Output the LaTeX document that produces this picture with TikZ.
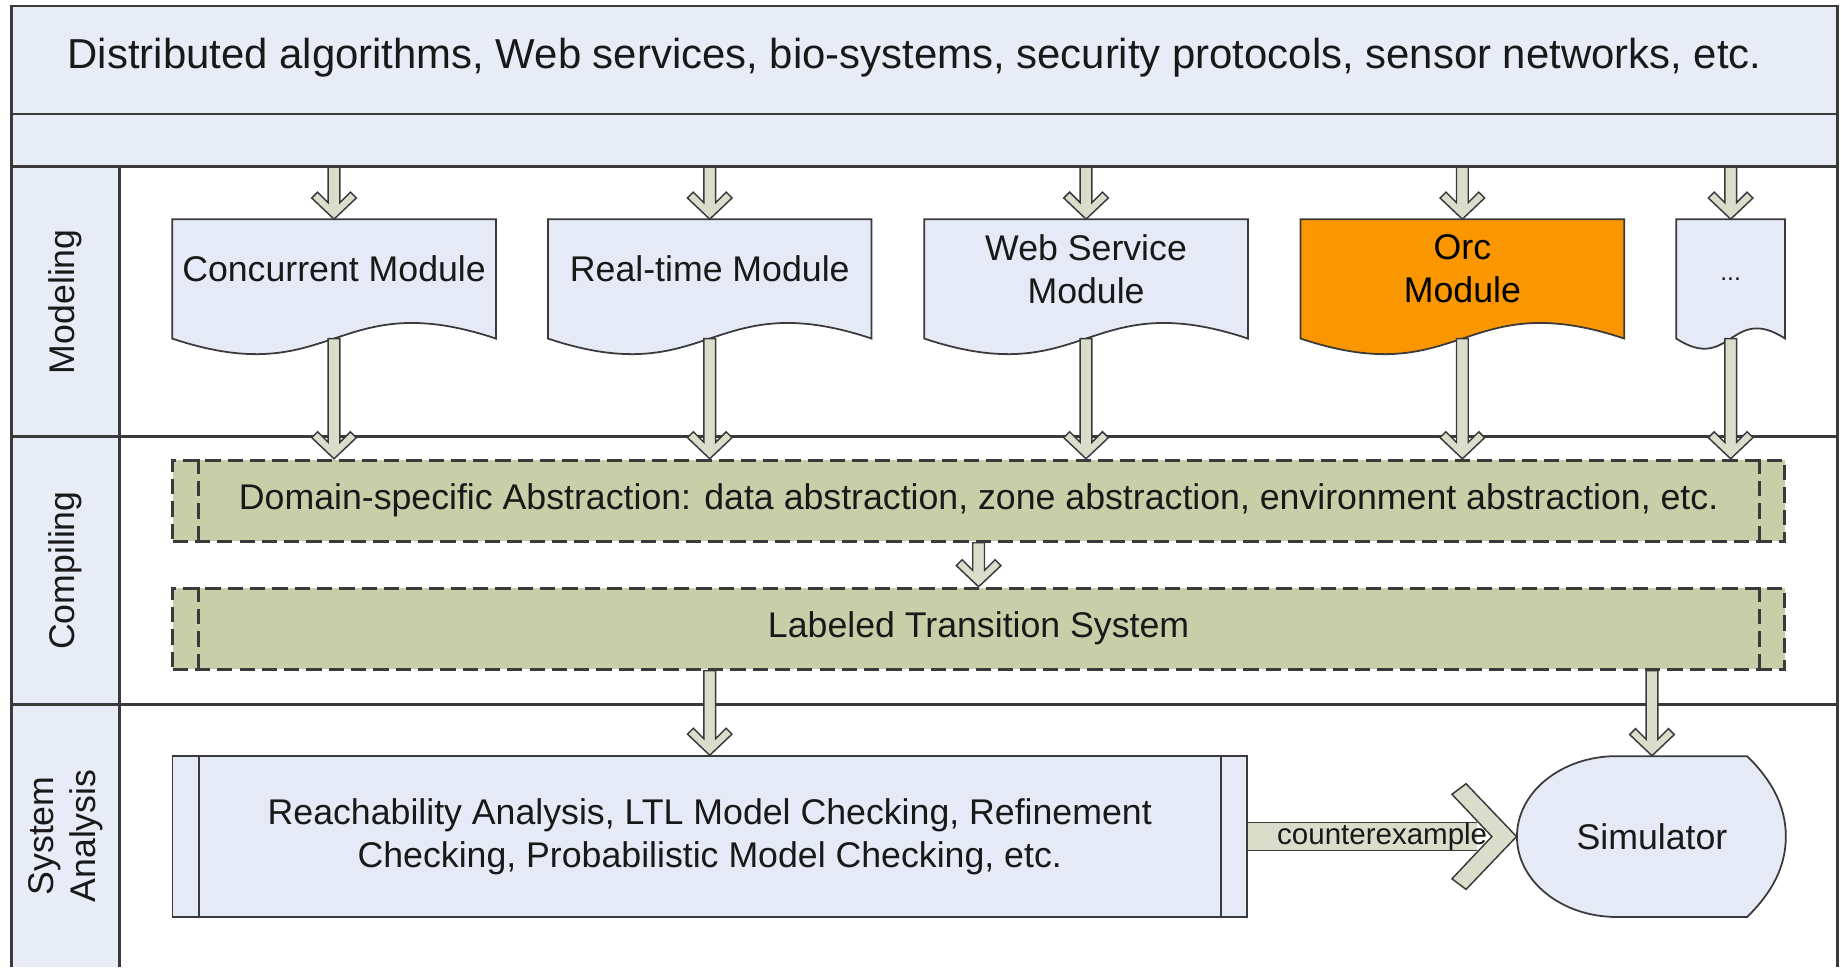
\documentclass[tikz,border=0pt]{standalone}
\usepackage{fontspec}
\setmainfont{Liberation Sans}
\usetikzlibrary{calc}

\definecolor{laneblue}{RGB}{232,236,247}
\definecolor{modblue}{RGB}{229,234,246}
\definecolor{stagegreen}{RGB}{200,207,168}
\definecolor{arrowgray}{RGB}{219,221,203}
\definecolor{orcorange}{RGB}{250,150,0}
\definecolor{edge}{RGB}{58,58,58}

\begin{document}
\begin{tikzpicture}[x=0.2mm,y=-0.2mm,
  every node/.style={font=\fontsize{17.3}{20.8}\selectfont, text=black!90, inner sep=0pt},
  rule/.style={draw=edge, line width=0.45mm},
  bar/.style={fill=laneblue, minimum width=311mm},
  modshape/.style={minimum width=#1, minimum height=20.2mm},
  sheet/.style={draw=edge, line width=0.3mm},
  flow/.style={fill=arrowgray, draw=edge, line width=0.25mm},
  dashes/.style={draw=edge, line width=0.5mm, dash pattern=on 2.6mm off 1.2mm},
  stage/.style={dashes, fill=stagegreen, minimum width=274.6mm, minimum height=13.8mm},
  lane/.style={rotate=90, align=center}]
\useasboundingbox (0,0) rectangle (1568,824);
\def\wave{46}
\def\textlift{1.7mm}

% Macro for module sheet (name, x, width, fill, text)
\newcommand{\modulesheet}[5]{
    \node[modshape=#3] (#1) at (#2,237.5) {};
    \filldraw[sheet, fill=#4] (#1.north west) -- (#1.north east) -- (#1.south east)
        .. controls ($(#1.south)+(0,-\wave)$) and ($(#1.south)+(0,\wave)$) .. (#1.south west) -- cycle;
    \node[align=center] at ([yshift=\textlift]#1.center) {#5};
}

% Macro for hollow arrow pointing down
\newcommand{\downflow}[2]{
    \filldraw[flow] ($(#1)+(-5,0)$) -- ($(#2)+(-5,-14)$) -- ($(#2)+(-14,-23)$) -- ($(#2)+(-19,-18)$)
        -- (#2) -- ($(#2)+(19,-18)$) -- ($(#2)+(14,-23)$) -- ($(#2)+(5,-14)$) -- ($(#1)+(5,0)$) -- cycle;
}

% Macro for side bars of a box
\newcommand{\sidebars}[2]{
    \draw[#2] ([xshift=4.6mm]#1.north west) -- ([xshift=4.6mm]#1.south west);
    \draw[#2] ([xshift=-4.6mm]#1.north east) -- ([xshift=-4.6mm]#1.south east);
}

% Header
\node[bar, minimum height=18.4mm] (domains) at (787.5,51) {};
\node[font=\fontsize{20.3}{24}\selectfont] (title) at (779,49)
    {Distributed algorithms, Web services, bio-systems, security protocols, sensor networks, etc.};
\node[bar, minimum height=9mm] (intake) at (787.5,119.5) {};
\fill[laneblue] (10,142) rectangle (102,824);

% Frame and lanes
\draw[rule] (10,824) -- (10,5) -- (1565,5) -- (1565,824);
\draw[rule] (10,97) -- (1565,97);
\draw[rule] (10,142) -- (1565,142);
\draw[rule] (10,372) -- (1565,372);
\draw[rule] (10,600) -- (1565,600);
\draw[rule] (102,142) -- (102,824);

\node[lane] (modeling) at (56,257) {Modeling};
\node[lane] (compiling) at (56,486) {Compiling};
\node[lane] (analysis) at (56,712) {System\\Analysis};

% Modules
\modulesheet{conc}{284.5}{55mm}{modblue}{Concurrent Module}
\modulesheet{rt}{604.5}{55mm}{modblue}{Real-time Module}
\modulesheet{ws}{925}{55mm}{modblue}{Web Service\\Module}
\modulesheet{orc}{1245.5}{55mm}{orcorange}{\color{black}Orc\\\color{black}Module}
\def\wave{30}
\def\textlift{0mm}
\modulesheet{more}{1474}{18.4mm}{modblue}{\fontsize{12}{14}\selectfont ...}

% Compiling stages
\node[stage] (abstr) at (833.5,426.5)
    {Domain-specific Abstraction: data abstraction, zone abstraction, environment abstraction, etc.};
\sidebars{abstr}{dashes}
\node[stage] (lts) at (833.5,535.5) {Labeled Transition System};
\sidebars{lts}{dashes}

% Analysis
\node[fill=modblue, draw=edge, line width=0.3mm, minimum width=183mm, minimum height=27.4mm, align=center]
    (check) at (604.5,712.5)
    {Reachability Analysis, LTL Model Checking, Refinement\\Checking, Probabilistic Model Checking, etc.};
\sidebars{check}{draw=edge, line width=0.3mm}

% Simulator
\begin{scope}[shift={(1407,712.5)}]
    \filldraw[sheet, fill=modblue] (-30,-68.5) -- (81,-68.5)
        .. controls (102,-48) and (114,-26) .. (114,0)
        .. controls (114,26) and (102,48) .. (81,68.5)
        -- (-30,68.5)
        .. controls (-77,68.5) and (-115,38) .. (-115,0)
        .. controls (-115,-38) and (-77,-68.5) .. cycle;
\end{scope}
\node[minimum width=46mm, minimum height=27.4mm] (sim) at (1407,712.5) {Simulator};

% Arrows into the modules
\downflow{intake.south -| conc.north}{conc.north}
\downflow{intake.south -| rt.north}{rt.north}
\downflow{intake.south -| ws.north}{ws.north}
\downflow{intake.south -| orc.north}{orc.north}
\downflow{intake.south -| more.north}{more.north}

% Arrows out of the modules
\downflow{conc.south}{abstr.north -| conc.south}
\downflow{rt.south}{abstr.north -| rt.south}
\downflow{ws.south}{abstr.north -| ws.south}
\downflow{orc.south}{abstr.north -| orc.south}
\downflow{more.south}{abstr.north -| more.south}

\downflow{abstr.south}{lts.north}
\downflow{lts.south -| check.north}{check.north}
\downflow{lts.south -| sim.north}{sim.north}

% Counterexample arrow
\filldraw[flow] (sim.west) -- ($(sim.west)+(-43,45)$) -- ($(sim.west)+(-55,36)$) -- ($(sim.west)+(-21,0)$)
    -- ($(sim.west)+(-55,-36)$) -- ($(sim.west)+(-43,-45)$) -- cycle;
\fill[arrowgray] ($(check.east)+(0,-12)$) rectangle ($(sim.west)+(-34,12)$);
\draw[edge, line width=0.25mm] ($(check.east)+(0,-12)$) -- ($(sim.west)+(-34,-12)$);
\draw[edge, line width=0.25mm] ($(check.east)+(0,12)$) -- ($(sim.west)+(-34,12)$);
\node[font=\fontsize{14.3}{17}\selectfont] (cex) at ($(check.east)!0.5!(sim.west)$) {counterexample};

\end{tikzpicture}
\end{document}
